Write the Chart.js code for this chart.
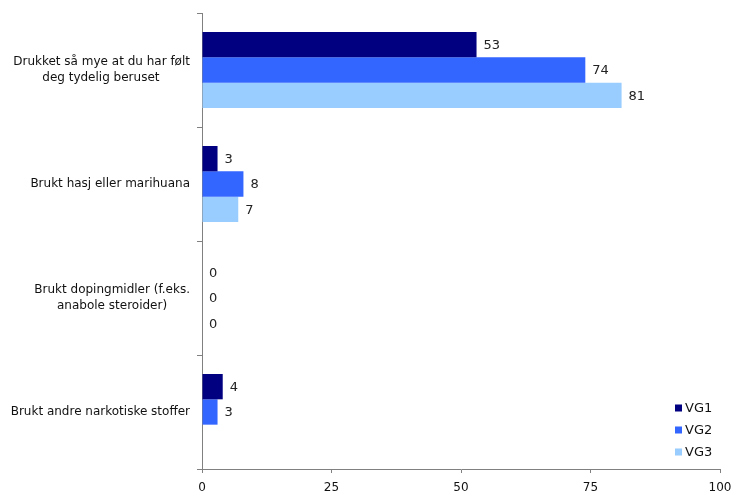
<!DOCTYPE html>
<html>
<head>
<meta charset="utf-8">
<script src="https://cdn.jsdelivr.net/npm/chart.js@4.4.0/dist/chart.umd.min.js"></script>
<style>
    html, body { margin: 0; padding: 0; background: #fff; }
    #wrap { width: 731px; height: 492px; }
</style>
</head>
<body>
<div id="wrap"><canvas id="chart"></canvas></div>
<script>
// Chart data
const categories = [
    ['Drukket så mye at du har følt', 'deg tydelig beruset'],
    ['Brukt hasj eller marihuana'],
    ['Brukt dopingmidler (f.eks.', 'anabole steroider)'],
    ['Brukt andre narkotiske stoffer']
];
const seriesNames = ['VG1', 'VG2', 'VG3'];
const vg1 = [53, 3, 0, 4];
const vg2 = [74, 8, 0, 3];
const vg3 = [81, 7, 0, null];
const xTicks = [0, 25, 50, 75, 100];

const FONT = '"DejaVu Sans", Verdana, sans-serif';
const colors = ['#000080', '#3366FF', '#99CCFF'];

// pad shorter lines with trailing spaces so multi-line labels look centered
const measureCtx = document.createElement('canvas').getContext('2d');
measureCtx.font = '12px ' + FONT;
function centerLines(lines) {
    if (lines.length < 2) return lines;
    const widths = lines.map(l => measureCtx.measureText(l).width);
    const maxW = Math.max(...widths);
    const spaceW = measureCtx.measureText(' ').width;
    return lines.map((l, i) => l + ' '.repeat(Math.round((maxW - widths[i]) / 2 / spaceW)));
}

// value labels at the end of each bar
const valueLabels = {
    id: 'valueLabels',
    afterDatasetsDraw(chart) {
        const ctx = chart.ctx;
        ctx.save();
        ctx.font = '13px ' + FONT;
        ctx.fillStyle = '#222';
        ctx.textAlign = 'left';
        ctx.textBaseline = 'middle';
        chart.data.datasets.forEach((ds, i) => {
            chart.getDatasetMeta(i).data.forEach((bar, j) => {
                const v = ds.data[j];
                if (v === null || v === undefined) return;
                ctx.fillText(String(v), bar.x + 7, bar.y + 1);
            });
        });
        ctx.restore();
    }
};

// legend in the lower right corner of the plot
const cornerLegend = {
    id: 'cornerLegend',
    afterDraw(chart) {
        const ctx = chart.ctx;
        const area = chart.chartArea;
        ctx.save();
        ctx.font = '13px ' + FONT;
        ctx.textAlign = 'left';
        ctx.textBaseline = 'middle';
        chart.data.datasets.forEach((ds, i) => {
            const y = area.bottom - 61 + i * 22;
            ctx.fillStyle = ds.backgroundColor;
            ctx.fillRect(area.right - 45, y - 3.5, 7, 7);
            ctx.fillStyle = '#111';
            ctx.fillText(ds.label, area.right - 35, y + 1);
        });
        ctx.restore();
    }
};

const ctx = document.getElementById('chart').getContext('2d');
new Chart(ctx, {
    type: 'bar',
    data: {
        labels: categories,
        datasets: [vg1, vg2, vg3].map((values, i) => ({
            label: seriesNames[i],
            data: values,
            backgroundColor: colors[i],
            borderWidth: 0,
            categoryPercentage: 0.667,
            barPercentage: 1
        }))
    },
    options: {
        indexAxis: 'y',
        responsive: true,
        maintainAspectRatio: false,
        animation: false,
        layout: {
            padding: { top: 13, right: 11, bottom: 0, left: 0 }
        },
        plugins: {
            legend: { display: false },
            tooltip: { enabled: false }
        },
        scales: {
            x: {
                min: 0,
                max: 100,
                afterBuildTicks(scale) {
                    scale.ticks = xTicks.map(v => ({ value: v }));
                },
                afterFit(scale) {
                    scale.height = 23;
                    scale.paddingLeft = 0;
                    scale.paddingRight = 0;
                },
                grid: {
                    drawOnChartArea: false,
                    tickLength: 4,
                    color: '#808080'
                },
                border: { color: '#808080' },
                ticks: {
                    padding: 8,
                    maxRotation: 0,
                    color: '#111',
                    font: { family: FONT, size: 12 }
                }
            },
            y: {
                afterFit(scale) {
                    scale.width = 202;
                    scale.paddingTop = 0;
                    scale.paddingBottom = 0;
                },
                grid: {
                    drawOnChartArea: false,
                    offset: true,
                    tickLength: 5,
                    color: '#808080'
                },
                border: { color: '#808080' },
                ticks: {
                    padding: 7,
                    color: '#111',
                    font: { family: FONT, size: 12, lineHeight: 1.33 },
                    callback(value, index) {
                        return centerLines(categories[index]);
                    }
                }
            }
        }
    },
    plugins: [valueLabels, cornerLegend]
});
</script>
</body>
</html>
